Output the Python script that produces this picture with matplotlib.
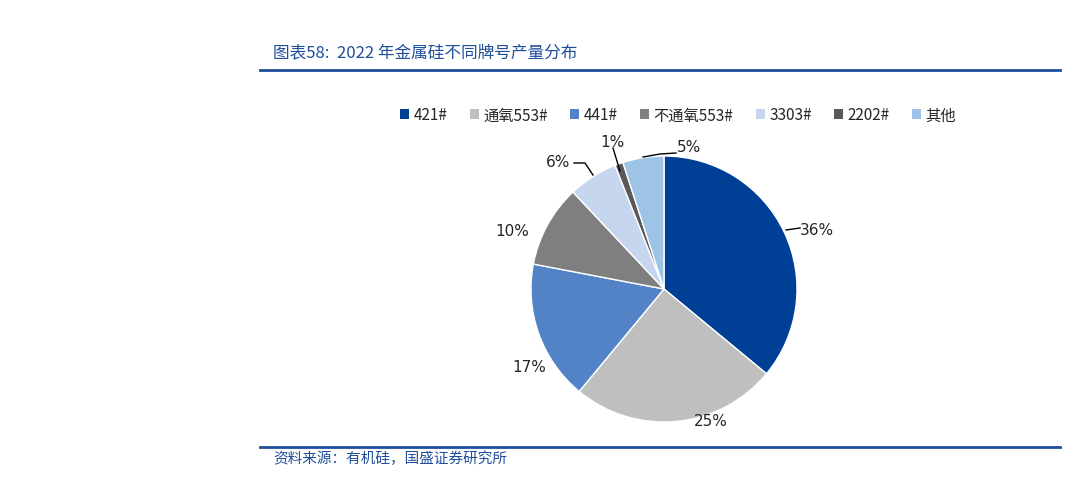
import matplotlib
matplotlib.use("Agg")
import matplotlib.pyplot as plt
from matplotlib.patches import Patch
from matplotlib.lines import Line2D

plt.rcParams['font.family'] = ['Noto Sans CJK SC', 'DejaVu Sans']

categories = ['421#', '通氧553#', '441#', '不通氧553#', '3303#', '2202#', '其他']
shares = [36, 25, 17, 10, 6, 1, 5]
label_texts = ['36%', '25%', '17%', '10%', '6%', '1%', '5%']
title = '图表58:  2022 年金属硅不同牌号产量分布'
source = '资料来源：有机硅，国盛证券研究所'

colors = ['#003F96', '#BFBFBF', '#5183C6', '#7F7F7F', '#C6D6EE', '#595959', '#9DC3E6']
# label positions (in pie radius units)
label_pos = [(1.15, 0.45), (0.35, -0.99), (-1.01, -0.58), (-1.14, 0.44),
             (-0.80, 0.96), (-0.39, 1.11), (0.19, 1.07)]

W, H = 1087, 481
fig = plt.figure(figsize=(W / 100, H / 100), dpi=100)

cx, cy, R = 664, 290, 133
ax = fig.add_axes([(cx - R) / W, (H - cy - R) / H, 2 * R / W, 2 * R / H])
wedges, _ = ax.pie(shares, colors=colors, startangle=90, counterclock=False,
                   radius=1, wedgeprops=dict(linewidth=1.0, edgecolor='white'))
ax.set_xlim(-1, 1)
ax.set_ylim(-1, 1)
ax.set_aspect('equal')
ax.axis('off')

for txt, (x, y) in zip(label_texts, label_pos):
    ax.text(x, y, txt, ha='center', va='center', fontsize=11, color='#262626',
            family=['DejaVu Sans'], clip_on=False)

def px(p):
    return ((p[0] - cx) / R, (cy - p[1]) / R)

leaders = [
    [(786, 231), (800, 229)],
    [(574, 164), (585, 164), (593, 176)],
    [(613, 149), (620, 172)],
    [(643, 158), (660, 155), (676, 154)],
]
for pts in leaders:
    d = [px(p) for p in pts]
    ax.add_line(Line2D([p[0] for p in d], [p[1] for p in d], color='black',
                       lw=1.0, clip_on=False))

# legend
handles = [Patch(facecolor=c, edgecolor='none') for c in colors]
leg = fig.legend(handles, categories, loc='center', ncol=7,
                 bbox_to_anchor=(678 / W, 1 - 116 / H), frameon=False,
                 fontsize=11, handlelength=0.6, handleheight=0.6,
                 handletextpad=0.3, columnspacing=1.45)
for t in leg.get_texts():
    t.set_color('#262626')

# header / footer
line_color = '#1F4E9A'
fig.add_artist(Line2D([260 / W, 1060 / W], [1 - 71 / H, 1 - 71 / H],
                      color=line_color, lw=2))
fig.add_artist(Line2D([260 / W, 1060 / W], [1 - 448 / H, 1 - 448 / H],
                      color=line_color, lw=2))
fig.text(273 / W, 1 - 53 / H, title, fontsize=12, color='#1F4E9A',
         style='italic', ha='left', va='center')
fig.text(273 / W, 1 - 459 / H, source, fontsize=10.5, color='#1F4E9A',
         style='italic', ha='left', va='center')

fig.savefig('out.png', dpi=100)
